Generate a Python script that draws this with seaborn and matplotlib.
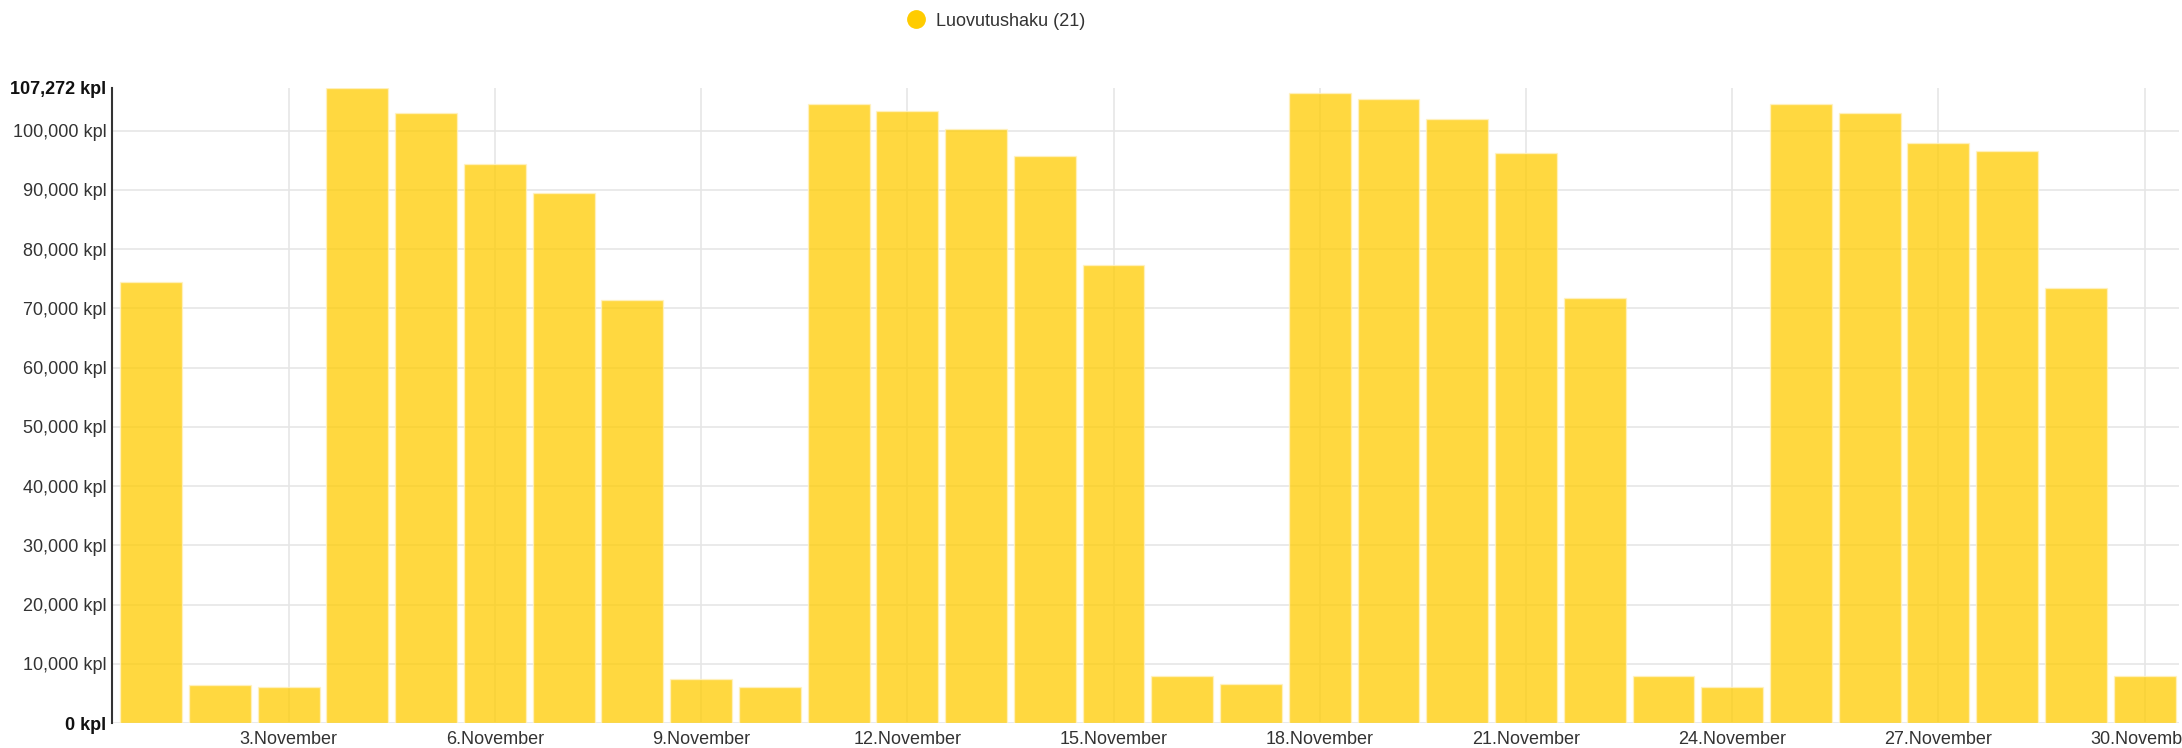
import matplotlib

matplotlib.use("Agg")
import matplotlib.pyplot as plt
from matplotlib.lines import Line2D
import seaborn as sns
import pandas as pd

# Luovutushaku, kpl per day, November
days = list(range(1, 31))
values = [
    74400, 6400, 6000, 107272, 102900, 94400, 89400, 71400, 7500, 6000,
    104500, 103300, 100200, 95800, 77300, 8000, 6500, 106400, 105400, 101900,
    96300, 71800, 8000, 6000, 104500, 103050, 97900, 96550, 73500, 8000,
]
y_ticks = [0, 10000, 20000, 30000, 40000, 50000, 60000, 70000, 80000, 90000, 100000, 107272]
label_days = [3, 6, 9, 12, 15, 18, 21, 24, 27, 30]
series_name = "Luovutushaku (21)"

df = pd.DataFrame({"day": [str(d) for d in days], "kpl": values})

sns.set_style("white")
plt.rcParams["font.family"] = ["Liberation Sans", "DejaVu Sans"]

fig = plt.figure(figsize=(21.82, 7.48), dpi=100)
ax = fig.add_axes([112 / 2182, 25 / 748, 2067 / 2182, 635.4 / 748])

sns.barplot(data=df, x="day", y="kpl", color="#FFCC00", saturation=1, alpha=0.75,
            width=0.9, edgecolor="#FFF3C4", linewidth=1, ax=ax, zorder=2)

ax.set_xlim(-0.57, 29.5)
ax.set_ylim(0, max(y_ticks))

ax.set_xticks([days.index(d) for d in label_days])
ax.set_xticklabels([f"{d}.November" for d in label_days], fontsize=13, color="#333333")
ax.set_yticks(y_ticks)
ax.set_yticklabels([f"{v:,} kpl" for v in y_ticks], fontsize=13, color="#333333")
for i in (0, len(y_ticks) - 1):
    ax.get_yticklabels()[i].set_fontweight("bold")
    ax.get_yticklabels()[i].set_color("#111111")

ax.tick_params(axis="both", length=0, pad=4)
ax.tick_params(axis="x", pad=6)
ax.grid(True, color="#e6e6e6", linewidth=1.2, zorder=0)
ax.set_axisbelow(True)
ax.yaxis.get_gridlines()[-1].set_visible(False)
ax.set_xlabel("")
ax.set_ylabel("")

for side in ("top", "right", "bottom"):
    ax.spines[side].set_visible(False)
ax.spines["left"].set_color("#333333")
ax.spines["left"].set_linewidth(1.5)

handle = Line2D([], [], marker="o", linestyle="", color="#FFCC00", markersize=12.5)
fig.legend(handles=[handle], labels=[series_name], loc="center",
           bbox_to_anchor=(992 / 2182, 1 - 21 / 748), frameon=False,
           fontsize=13, handletextpad=0.1, labelcolor="#333333")

fig.savefig("out.png", dpi=100)
plt.close(fig)
